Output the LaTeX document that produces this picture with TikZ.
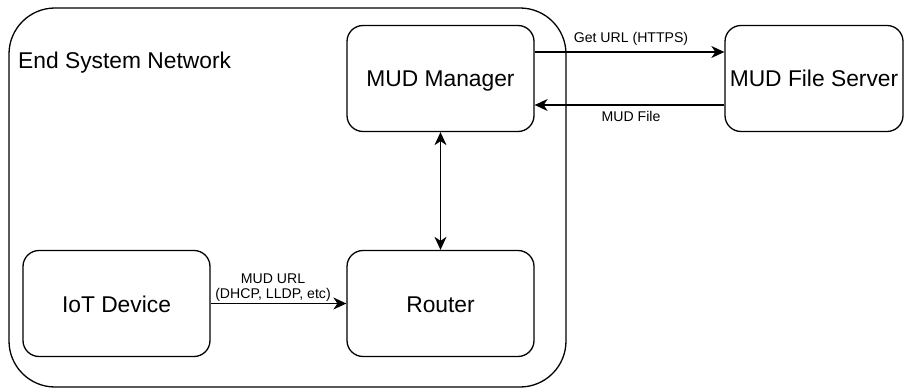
\documentclass[tikz,border=0pt]{standalone}
\usepackage{fontspec}
\setmainfont{Liberation Sans}
\usetikzlibrary{arrows.meta}
\begin{document}
\begin{tikzpicture}[x=1pt,y=-1pt,
  box/.style={draw,line width=1.3pt,rounded corners=16pt,inner sep=0pt,
    minimum width=187pt,minimum height=106pt,text height=17pt,text depth=0pt,
    font=\fontsize{22.8}{25}\selectfont},
  arr/.style={line width=1.3pt,-{Stealth[length=13pt,width=12pt,inset=4pt]}},
  darr/.style={line width=1.3pt,{Stealth[length=13pt,width=12pt,inset=4pt]}-{Stealth[length=13pt,width=12pt,inset=4pt]}},
  lbl/.style={inner sep=0pt,anchor=base,font=\fontsize{14.1}{16}\selectfont}]
\useasboundingbox (0,0) rectangle (904,390);
\node[draw,line width=1.3pt,rounded corners=46pt,minimum width=557pt,minimum height=379pt,inner sep=0pt] (sys) at (287.5,197.5) {};
\node[inner sep=0pt,anchor=base west,font=\fontsize{22.8}{25}\selectfont] (title) at (18,69) {End System Network};
\node[box] (mgr) at (440.5,78.5) {MUD Manager};
\node[box,minimum width=178pt] (srv) at (814,78.5) {MUD File Server};
\node[box] (iot) at (116.5,303.5) {IoT Device};
\node[box] (rtr) at (440.5,303.5) {Router};
\draw[arr] (mgr.east |- 0,52) -- (srv.west |- 0,52);
\draw[arr] (srv.west |- 0,105) -- (mgr.east |- 0,105);
\draw[darr] (mgr.south) -- (rtr.north);
\draw[arr] (iot.east) -- (rtr.west);
\node[lbl] (l1) at (631,43) {Get URL (HTTPS)};
\node[lbl] (l2) at (631,122) {MUD File};
\node[lbl] (l3) at (273,283) {MUD URL};
\node[lbl] (l4) at (273,298) {(DHCP, LLDP, etc)};
\end{tikzpicture}
\end{document}
